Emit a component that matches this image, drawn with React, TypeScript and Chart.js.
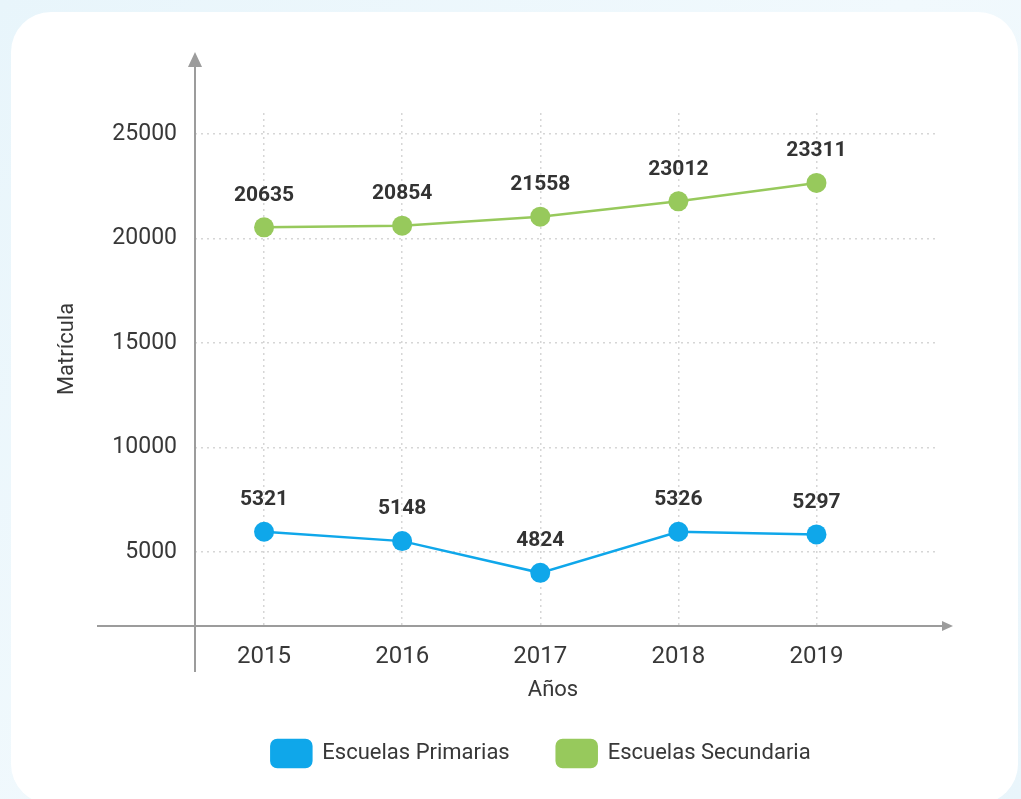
import React, { useEffect, useRef } from 'react';
import { Chart, registerables } from 'chart.js';

Chart.register(...registerables);

// ---- data ----
const years = [2015, 2016, 2017, 2018, 2019];
const primariasValues = [5958, 5512, 3994, 5958, 5833];
const secundariaValues = [20527, 20608, 21040, 21772, 22653];
const primariasLabels = ['5321', '5148', '4824', '5326', '5297'];
const secundariaLabels = ['20635', '20854', '21558', '23012', '23311'];
const yTickValues = [5000, 10000, 15000, 20000, 25000];
const seriesNames = ['Escuelas Primarias', 'Escuelas Secundaria'];
const yTitle = 'Matrícula';
const xTitle = 'Años';

const BLUE = '#0fa7ea';
const GREEN = '#97c95c';
const FONT = 'Roboto, "Noto Sans", sans-serif';
const TEXT = '#383838';

const decorPlugin = {
  id: 'decor',
  afterDraw(chart: any) {
    const { ctx, chartArea: a } = chart;
    ctx.save();
    // axes with arrows
    ctx.strokeStyle = '#9c9c9c';
    ctx.fillStyle = '#9c9c9c';
    ctx.lineWidth = 2;
    ctx.beginPath();
    ctx.moveTo(a.left, a.bottom + 46);
    ctx.lineTo(a.left, a.top - 50);
    ctx.stroke();
    ctx.beginPath();
    ctx.moveTo(a.left, a.top - 61);
    ctx.lineTo(a.left - 7, a.top - 46);
    ctx.lineTo(a.left + 7, a.top - 46);
    ctx.closePath();
    ctx.fill();
    ctx.beginPath();
    ctx.moveTo(a.left - 98, a.bottom);
    ctx.lineTo(a.right + 6, a.bottom);
    ctx.stroke();
    ctx.beginPath();
    ctx.moveTo(a.right + 15, a.bottom);
    ctx.lineTo(a.right + 4, a.bottom - 5);
    ctx.lineTo(a.right + 4, a.bottom + 5);
    ctx.closePath();
    ctx.fill();

    // axis titles
    ctx.fillStyle = TEXT;
    ctx.font = `22px ${FONT}`;
    ctx.textAlign = 'center';
    ctx.textBaseline = 'middle';
    ctx.fillText(xTitle, 553, 690);
    ctx.save();
    ctx.translate(67, 349);
    ctx.rotate(-Math.PI / 2);
    ctx.fillText(yTitle, 0, 0);
    ctx.restore();

    // data labels
    const labelSets = [primariasLabels, secundariaLabels];
    ctx.font = `bold 21px ${FONT}`;
    ctx.fillStyle = '#333333';
    chart.data.datasets.forEach((_: any, di: number) => {
      const meta = chart.getDatasetMeta(di);
      meta.data.forEach((el: any, i: number) => {
        ctx.fillText(labelSets[di][i], el.x, el.y - 32);
      });
    });
    ctx.restore();
  },
};

export default function App() {
  const ref = useRef<HTMLCanvasElement | null>(null);

  useEffect(() => {
    if (!ref.current) return;
    const chart = new Chart(ref.current, {
      type: 'line',
      data: {
        datasets: [
          {
            label: seriesNames[0],
            data: years.map((y, i) => ({ x: y, y: primariasValues[i] })),
            borderColor: BLUE,
            backgroundColor: BLUE,
            borderWidth: 2.5,
            pointRadius: 10,
            pointHoverRadius: 10,
            pointBorderWidth: 0,
            pointBackgroundColor: BLUE,
            clip: false,
          },
          {
            label: seriesNames[1],
            data: years.map((y, i) => ({ x: y, y: secundariaValues[i] })),
            borderColor: GREEN,
            backgroundColor: GREEN,
            borderWidth: 2.5,
            pointRadius: 10,
            pointHoverRadius: 10,
            pointBorderWidth: 0,
            pointBackgroundColor: GREEN,
            clip: false,
          },
        ],
      },
      options: {
        responsive: false,
        animation: false,
        layout: { padding: { left: 100, right: 39, top: 113, bottom: 22 } },
        scales: {
          x: {
            type: 'linear',
            min: 2014.5,
            max: 2019.88,
            afterBuildTicks: (s: any) => {
              s.ticks = years.map((v) => ({ value: v }));
            },
            afterFit: (s: any) => {
              s.height = 67;
            },
            grid: { color: '#d6d6d6', lineWidth: 1.5, drawTicks: false },
            border: { display: false, dash: [2, 4] },
            ticks: {
              autoSkip: false,
              maxRotation: 0,
              padding: 17,
              color: TEXT,
              font: { family: FONT, size: 24 },
              callback: (v: any) => String(v),
            },
          },
          y: {
            position: 'left',
            min: 1450,
            max: 26000,
            afterBuildTicks: (s: any) => {
              s.ticks = yTickValues.map((v) => ({ value: v }));
            },
            afterFit: (s: any) => {
              s.width = 95;
            },
            grid: { color: '#d6d6d6', lineWidth: 1.5, drawTicks: false },
            border: { display: false, dash: [2, 4] },
            ticks: {
              autoSkip: false,
              padding: 18,
              color: TEXT,
              font: { family: FONT, size: 23 },
              callback: (v: any) => String(v),
            },
          },
          ySpacer: {
            type: 'linear',
            position: 'right',
            display: true,
            afterFit: (s: any) => {
              s.width = 44;
            },
            grid: { display: false, drawTicks: false },
            border: { display: false },
            ticks: { display: false },
          },
        },
        plugins: {
          tooltip: { enabled: false },
          legend: {
            position: 'bottom',
            labels: {
              boxWidth: 40,
              boxHeight: 27,
              useBorderRadius: true,
              borderRadius: 6,
              padding: 47,
              color: TEXT,
              font: { family: FONT, size: 22 },
            },
          },
        },
      },
      plugins: [decorPlugin],
    } as any);
    return () => chart.destroy();
  }, []);

  return (
    <div
      style={{
        position: 'fixed',
        left: 0,
        top: 0,
        width: 1021,
        height: 799,
        overflow: 'hidden',
        background: 'linear-gradient(135deg, #e8f5fb 0%, #f1f9fd 50%, #e9f5fb 100%)',
      }}
    >
      <div
        style={{
          position: 'absolute',
          left: 11,
          top: 12,
          width: 1007,
          height: 792,
          borderRadius: 40,
          background: '#ffffff',
        }}
      />
      <canvas
        ref={ref}
        width={1021}
        height={799}
        style={{ position: 'absolute', left: 0, top: 0, width: 1021, height: 799 }}
      />
    </div>
  );
}
